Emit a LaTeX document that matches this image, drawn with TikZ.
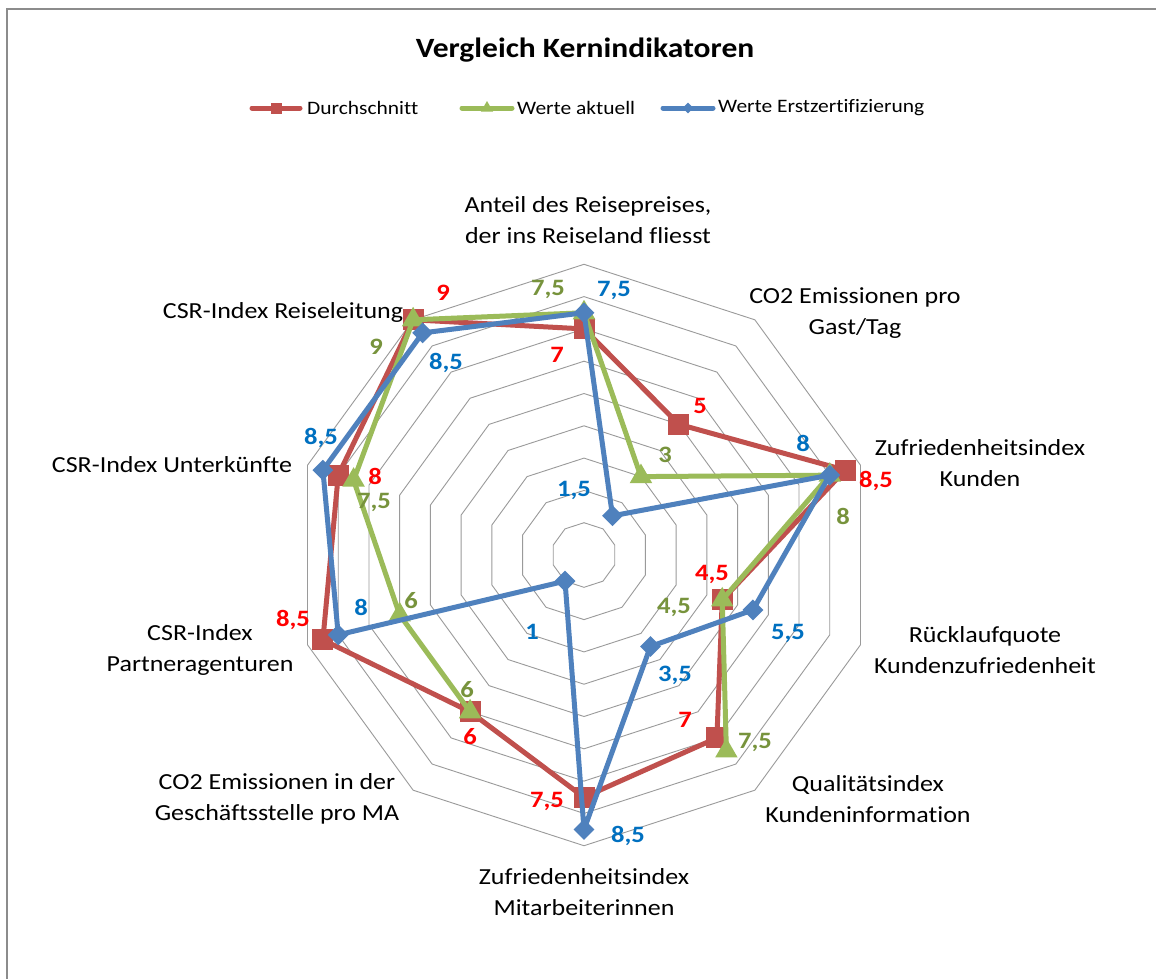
\documentclass[tikz,border=0pt]{standalone}
\usepackage{fontspec}
\setmainfont{Carlito}[FakeStretch=1.13, Ligatures=NoCommon]
\usetikzlibrary{shapes.geometric}
\definecolor{serR}{HTML}{C0504D}
\definecolor{serG}{HTML}{9BBB59}
\definecolor{serB}{HTML}{4F81BD}
\definecolor{labR}{HTML}{FF0000}
\definecolor{labG}{HTML}{77933C}
\definecolor{labB}{HTML}{0070C0}
\definecolor{frameC}{HTML}{8C8C8C}
\definecolor{gridC}{HTML}{9A9A9A}
\begin{document}
\begin{tikzpicture}[x=1pt,y=-1pt,
  axlbl/.style={font=\fontsize{23}{31}\selectfont, align=center, text=black, inner sep=0},
  dlbl/.style={font=\fontsize{23.5}{28}\selectfont\bfseries, inner sep=0},
  leglbl/.style={font=\fontsize{19}{22}\selectfont, text=black, inner sep=0, anchor=west},
  gridline/.style={draw=gridC, line width=0.9pt},
  serline/.style={line width=5pt, line join=round, line cap=round},
  sqmark/.style={rectangle, fill=serR, minimum size=21pt, inner sep=0},
  trimark/.style={regular polygon, regular polygon sides=3, fill=serG, minimum size=26pt, inner sep=0},
  dimark/.style={diamond, fill=serB, minimum width=21pt, minimum height=21pt, inner sep=0},
]
\useasboundingbox (0,0) rectangle (1156,978);
\fill[white] (0,0) rectangle (1156,978);
\draw[draw=frameC, line width=2.5pt] (7,990) -- (7,9) -- (1170,9);

% title
\node[font=\fontsize{27.9}{32}\selectfont\bfseries, inner sep=0] (title) at (585,50) {Vergleich Kernindikatoren};

% legend
\coordinate (lgRa) at (252,108); \coordinate (lgRb) at (300,108);
\coordinate (lgGa) at (462,108); \coordinate (lgGb) at (512,108);
\coordinate (lgBa) at (663,108); \coordinate (lgBb) at (713,108);
\draw[serline, serR] (lgRa) -- (lgRb);
\node[sqmark, minimum size=11pt] (lgRm) at (276,108) {};
\node[leglbl] (lgRt) at (307,108) {Durchschnitt};
\draw[serline, serG] (lgGa) -- (lgGb);
\node[trimark, minimum size=14pt] (lgGm) at (487,108) {};
\node[leglbl] (lgGt) at (517,108) {Werte aktuell};
\draw[serline, serB] (lgBa) -- (lgBb);
\node[dimark, minimum width=11pt, minimum height=11pt] (lgBm) at (688,108) {};
\node[leglbl] (lgBt) at (718,108) {Werte Erstzertifizierung};

% radar grid
\coordinate (C) at (584,555);
\foreach \k in {1,...,9}{
  \draw[gridline] ([shift={(90:{\k*32.3pt})}]C)
    \foreach \j in {1,...,9}{ -- ([shift={({90-36*\j}:{\k*32.3pt})}]C) } -- cycle;
}

% data points
\foreach \v [count=\i from 0] in {7,5,8.5,4.5,7,7.5,6,8.5,8,9}
  \coordinate (R\i) at ([shift={({90-36*\i}:{\v*32.3pt})}]C);
\foreach \i/\v in {0/7.5,1/3,2/8,3/4.5,4/7.5,6/6,7/6,8/7.5,9/9}
  \coordinate (G\i) at ([shift={({90-36*\i}:{\v*32.3pt})}]C);
\foreach \v [count=\i from 0] in {7.5,1.5,8,5.5,3.5,8.5,1,8,8.5,8.5}
  \coordinate (B\i) at ([shift={({90-36*\i}:{\v*32.3pt})}]C);

% series
\draw[serline, serR] (R0) -- (R1) -- (R2) -- (R3) -- (R4) -- (R5) -- (R6) -- (R7) -- (R8) -- (R9) -- cycle;
\foreach \i in {0,...,9} \node[sqmark] (mR\i) at (R\i) {};
\draw[serline, serG] (G6) -- (G7) -- (G8) -- (G9) -- (G0) -- (G1) -- (G2) -- (G3) -- (G4);
\foreach \i in {0,1,2,3,4,6,7,8,9} \node[trimark] (mG\i) at (G\i) {};
\draw[serline, serB] (B0) -- (B1) -- (B2) -- (B3) -- (B4) -- (B5) -- (B6) -- (B7) -- (B8) -- (B9) -- cycle;
\foreach \i in {0,...,9} \node[dimark] (mB\i) at (B\i) {};

% axis labels
\node[axlbl] (ax0) at (588,220) {Anteil des Reisepreises,\\der ins Reiseland fliesst};
\node[axlbl] (ax1) at (855,313) {CO2 Emissionen pro\\Gast/Tag};
\node[axlbl] (ax2) at (980,463) {Zufriedenheitsindex\\Kunden};
\node[axlbl] (ax3) at (985,650) {Rücklaufquote\\Kundenzufriedenheit};
\node[axlbl] (ax4) at (868,799) {Qualitätsindex\\Kundeninformation};
\node[axlbl] (ax5) at (584,892) {Zufriedenheitsindex\\Mitarbeiterinnen};
\node[axlbl] (ax6) at (277,799) {CO2 Emissionen in der\\Geschäftsstelle pro MA};
\node[axlbl] (ax7) at (200,650) {CSR-Index\\Partneragenturen};
\node[axlbl] (ax8) at (172,465) {CSR-Index Unterkünfte};
\node[axlbl] (ax9) at (283,312) {CSR-Index Reiseleitung};

% data labels: Durchschnitt
\node[dlbl, text=labR] (dR0) at (557,355) {7};
\node[dlbl, text=labR] (dR1) at (700,406) {5};
\node[dlbl, text=labR] (dR2) at (876,481) {8,5};
\node[dlbl, text=labR] (dR3) at (712,574) {4,5};
\node[dlbl, text=labR] (dR4) at (685,720) {7};
\node[dlbl, text=labR] (dR5) at (547,801) {7,5};
\node[dlbl, text=labR] (dR6) at (470,737) {6};
\node[dlbl, text=labR] (dR7) at (293,620) {8,5};
\node[dlbl, text=labR] (dR8) at (375,476) {8};
\node[dlbl, text=labR] (dR9) at (443,293) {9};
% data labels: Werte aktuell
\node[dlbl, text=labG] (dG0) at (548,289) {7,5};
\node[dlbl, text=labG] (dG1) at (665,455) {3};
\node[dlbl, text=labG] (dG2) at (843,516) {8};
\node[dlbl, text=labG] (dG3) at (674,607) {4,5};
\node[dlbl, text=labG] (dG4) at (755,742) {7,5};
\node[dlbl, text=labG] (dG6) at (467,690) {6};
\node[dlbl, text=labG] (dG7) at (411,601) {6};
\node[dlbl, text=labG] (dG8) at (374,502) {7,5};
\node[dlbl, text=labG] (dG9) at (376,347) {9};
% data labels: Werte Erstzertifizierung
\node[dlbl, text=labB] (dB0) at (614,290) {7,5};
\node[dlbl, text=labB] (dB1) at (574,490) {1,5};
\node[dlbl, text=labB] (dB2) at (803,443) {8};
\node[dlbl, text=labB] (dB3) at (788,633) {5,5};
\node[dlbl, text=labB] (dB4) at (675,675) {3,5};
\node[dlbl, text=labB] (dB5) at (628,836) {8,5};
\node[dlbl, text=labB] (dB6) at (532,632) {1};
\node[dlbl, text=labB] (dB7) at (361,607) {8};
\node[dlbl, text=labB] (dB8) at (321,438) {8,5};
\node[dlbl, text=labB] (dB9) at (446,363) {8,5};
\end{tikzpicture}
\end{document}
